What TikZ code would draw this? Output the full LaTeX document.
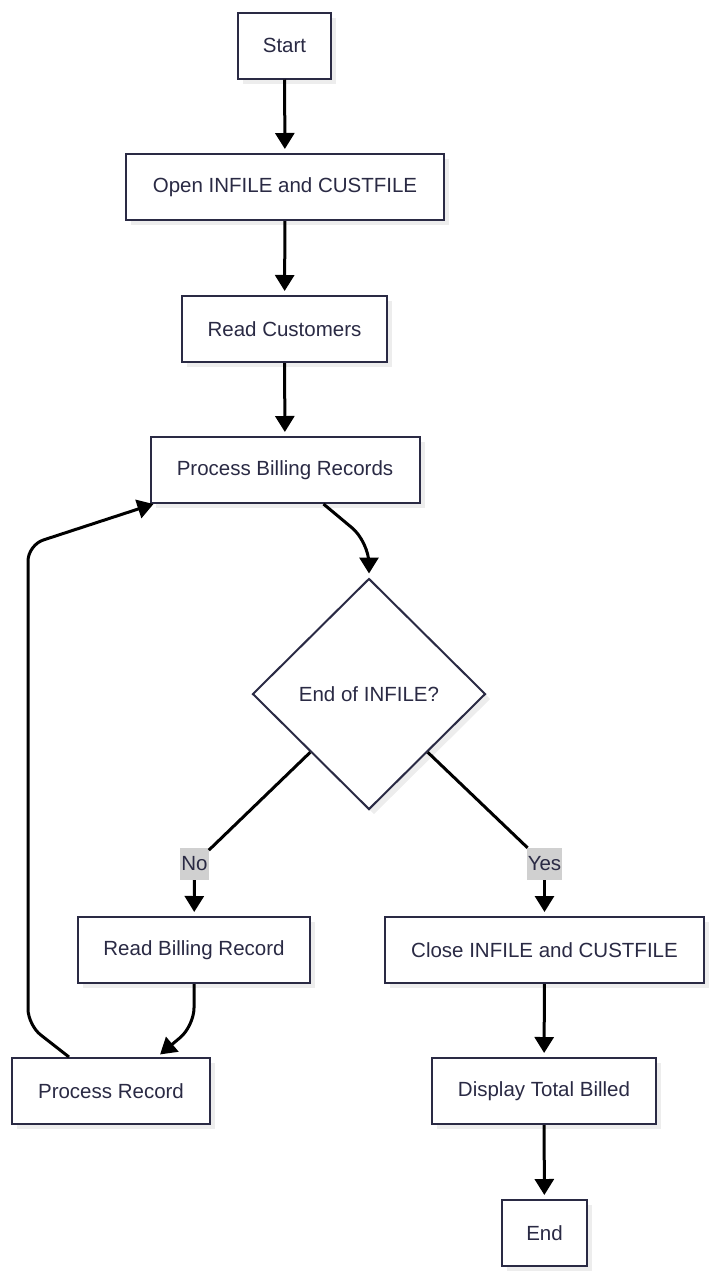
\documentclass[tikz,border=0pt]{standalone}
\usepackage{fontspec}
\setmainfont{Liberation Sans}
\usetikzlibrary{arrows.meta, positioning, shapes.geometric, shadows}
\definecolor{ink}{HTML}{2A2A44}
\definecolor{tagfill}{HTML}{D0D0D0}

\begin{document}
\begin{tikzpicture}[x=1pt, y=-1pt,
    box/.style={draw=ink, line width=2pt, fill=white, text=ink, font=\fontsize{20.5}{24}\selectfont,
        minimum height=66pt, inner xsep=10pt,
        drop shadow={shadow xshift=5pt, shadow yshift=-5pt, fill=black!7, opacity=1}},
    decide/.style={box, diamond, minimum width=233pt, minimum height=231pt, inner sep=0pt},
    tag/.style={fill=tagfill, text=ink, font=\fontsize{20.5}{24}\selectfont,
        inner xsep=1pt, inner ysep=2pt, minimum height=32pt},
    flow/.style={line width=3pt, shorten >=4pt, -{Triangle[length=16pt, width=19pt]}},
    plain/.style={line width=3pt}]
\useasboundingbox (0,0) rectangle (716,1280);

% main line
\node[box, minimum width=93pt] (start) at (284.5,45.5) {Start};
\node[box, minimum width=318pt] (open) at (285,187) {Open INFILE and CUSTFILE};
\node[box, minimum width=205pt] (readc) at (284.5,329) {Read Customers};
\node[box, minimum width=269pt] (pbr) at (285,470) {Process Billing Records};
\node[decide] (eof) at (369,694) {End of INFILE?};

% branches
\node[tag] (no) at (194.5,864) {No};
\node[tag] (yes) at (544.5,864) {Yes};
\node[box, minimum width=232pt] (rbr) at (194,950) {Read Billing Record};
\node[box, minimum width=319pt] (close) at (544.5,950) {Close INFILE and CUSTFILE};
\node[box, minimum width=198pt] (prec) at (111,1091) {Process Record};
\node[box, minimum width=224pt] (disp) at (544,1091) {Display Total Billed};
\node[box, minimum width=85pt] (stop) at (544.5,1233) {End};

\draw[flow] (start) -- (open);
\draw[flow] (open) -- (readc);
\draw[flow] (readc) -- (pbr);
\draw[flow, rounded corners=22pt] ([xshift=174pt]pbr.south west) -- (369,542) -- (eof.north);

\draw[plain] (eof.south west) -- (no);
\draw[flow] (no) -- (rbr);
\draw[plain] (eof.south east) -- (yes);
\draw[flow] (yes) -- (close);

\draw[flow, rounded corners=18pt] (rbr.south) -- (194,1026) -- ([xshift=146pt]prec.north west);
\draw[flow, shorten >=0pt, rounded corners=16pt] ([xshift=58pt]prec.north west) -- (28,1025) -- (28,545) -- ([xshift=4pt]pbr.south west);

\draw[flow] (close) -- (disp);
\draw[flow] (disp) -- (stop);
\end{tikzpicture}
\end{document}
